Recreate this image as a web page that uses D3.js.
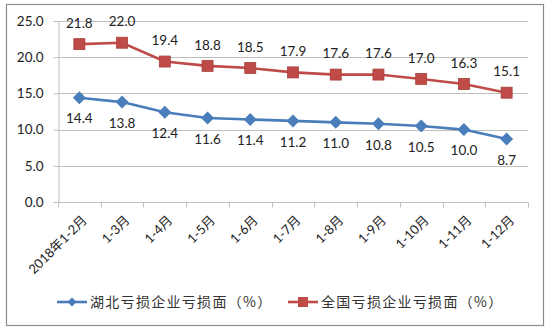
<!DOCTYPE html>
<html>
<head>
<meta charset="utf-8">
<script src="https://cdn.jsdelivr.net/npm/d3@7"></script>
<style>
  html, body { margin: 0; padding: 0; background: #fff; }
  svg { display: block; }
</style>
</head>
<body>
<svg id="chart" width="551" height="331"></svg>
<script>
const categories = ["2018年1-2月", "1-3月", "1-4月", "1-5月", "1-6月", "1-7月", "1-8月", "1-9月", "1-10月", "1-11月", "1-12月"];
const hubeiValues = [14.4, 13.8, 12.4, 11.6, 11.4, 11.2, 11.0, 10.8, 10.5, 10.0, 8.7];
const nationalValues = [21.8, 22.0, 19.4, 18.8, 18.5, 17.9, 17.6, 17.6, 17.0, 16.3, 15.1];
const yTicks = [0, 5, 10, 15, 20, 25];
const seriesNames = ["湖北亏损企业亏损面（%）", "全国亏损企业亏损面（%）"];

const blue = "#4A7EBB";
const red = "#BE4B48";
const latin = "Lato, 'Liberation Sans', sans-serif";
const cjk = "'Noto Sans CJK SC', sans-serif";

const svg = d3.select("#chart");

// outer frame
svg.append("rect")
  .attr("x", 6.5).attr("y", 4.5).attr("width", 537).attr("height", 321)
  .attr("fill", "none").attr("stroke", "#8c8c8c").attr("stroke-width", 1.2);

const plotLeft = 58, plotRight = 528, plotTop = 21, plotBottom = 202;

const x = d3.scaleBand().domain(categories).range([plotLeft, plotRight]).padding(0);
const y = d3.scaleLinear().domain([0, 25]).range([plotBottom, plotTop]);

// horizontal grid
svg.append("g")
  .selectAll("line")
  .data(yTicks)
  .join("line")
  .attr("x1", plotLeft).attr("x2", plotRight)
  .attr("y1", d => Math.round(y(d)) + 0.5).attr("y2", d => Math.round(y(d)) + 0.5)
  .attr("stroke", "#bfbfbf").attr("stroke-width", 1);

// y axis
const yAxis = svg.append("g")
  .attr("transform", `translate(${plotLeft + 0.5},0)`)
  .call(d3.axisLeft(y).tickValues(yTicks).tickSize(5).tickPadding(10).tickFormat(d3.format(".1f")));
yAxis.select(".domain").attr("stroke", "#bfbfbf");
yAxis.selectAll(".tick line").attr("stroke", "#bfbfbf");
yAxis.selectAll(".tick text")
  .attr("font-family", latin).attr("font-size", 13.5).attr("fill", "#222");

// x axis with ticks at category boundaries
const xAxisG = svg.append("g").attr("transform", `translate(0,${Math.round(plotBottom) + 0.5})`);
xAxisG.append("line").attr("x1", plotLeft).attr("x2", plotRight).attr("stroke", "#bfbfbf");
const bounds = categories.map(c => x(c)).concat([plotRight]);
xAxisG.selectAll("line.tk")
  .data(bounds)
  .join("line")
  .attr("class", "tk")
  .attr("x1", d => Math.round(d) + 0.5).attr("x2", d => Math.round(d) + 0.5)
  .attr("y1", 0).attr("y2", 5)
  .attr("stroke", "#bfbfbf");
xAxisG.selectAll("text")
  .data(categories)
  .join("text")
  .attr("transform", d => `translate(${x(d) + x.bandwidth() / 2 + 2},${12}) rotate(-45)`)
  .attr("text-anchor", "end")
  .attr("dy", "0.7em")
  .attr("font-family", `Lato, ${cjk}`)
  .attr("font-size", 13)
  .attr("fill", "#222")
  .text(d => d);

const cx = d => x(d) + x.bandwidth() / 2;
const line = d3.line().x((d, i) => cx(categories[i])).y(d => y(d));

// national series (red, squares)
svg.append("path").datum(nationalValues)
  .attr("d", line).attr("fill", "none").attr("stroke", red).attr("stroke-width", 2.6);
svg.append("g").selectAll("rect")
  .data(nationalValues)
  .join("rect")
  .attr("x", (d, i) => cx(categories[i]) - 5.5)
  .attr("y", d => y(d) - 5.5)
  .attr("width", 11).attr("height", 11)
  .attr("fill", red).attr("stroke", "#a8403d").attr("stroke-width", 0.8);

// Hubei series (blue, diamonds)
svg.append("path").datum(hubeiValues)
  .attr("d", line).attr("fill", "none").attr("stroke", blue).attr("stroke-width", 2.6);
svg.append("g").selectAll("path")
  .data(hubeiValues)
  .join("path")
  .attr("d", (d, i) => {
    const px = cx(categories[i]), py = y(d), r = 6.5;
    return `M${px},${py - r}L${px + r},${py}L${px},${py + r}L${px - r},${py}Z`;
  })
  .attr("fill", blue);

// value labels
svg.append("g").selectAll("text")
  .data(nationalValues)
  .join("text")
  .attr("x", (d, i) => cx(categories[i]))
  .attr("y", d => y(d) - 21)
  .attr("dy", "0.35em")
  .attr("text-anchor", "middle")
  .attr("font-family", latin).attr("font-size", 13.5).attr("fill", "#222")
  .text(d => d.toFixed(1));
svg.append("g").selectAll("text")
  .data(hubeiValues)
  .join("text")
  .attr("x", (d, i) => cx(categories[i]))
  .attr("y", d => y(d) + 21)
  .attr("dy", "0.35em")
  .attr("text-anchor", "middle")
  .attr("font-family", latin).attr("font-size", 13.5).attr("fill", "#222")
  .text(d => d.toFixed(1));

// legend
const legend = svg.append("g").attr("transform", "translate(0,302)");
const items = [
  { name: seriesNames[0], color: blue, x: 57, shape: "diamond" },
  { name: seriesNames[1], color: red, x: 288, shape: "square" }
];
items.forEach(it => {
  const g = legend.append("g").attr("transform", `translate(${it.x},0)`);
  g.append("line").attr("x1", 0).attr("x2", 30).attr("y1", 0).attr("y2", 0)
    .attr("stroke", it.color).attr("stroke-width", 2.6);
  if (it.shape === "diamond") {
    g.append("path").attr("d", "M15,-4.5L19.5,0L15,4.5L10.5,0Z").attr("fill", it.color);
  } else {
    g.append("rect").attr("x", 10).attr("y", -5).attr("width", 10).attr("height", 10)
      .attr("fill", it.color);
  }
  g.append("text").attr("x", 33).attr("y", 0).attr("dy", "0.36em")
    .attr("font-family", cjk).attr("font-size", 14).attr("letter-spacing", 1.3)
    .attr("fill", "#333")
    .text(it.name);
});
</script>
</body>
</html>
